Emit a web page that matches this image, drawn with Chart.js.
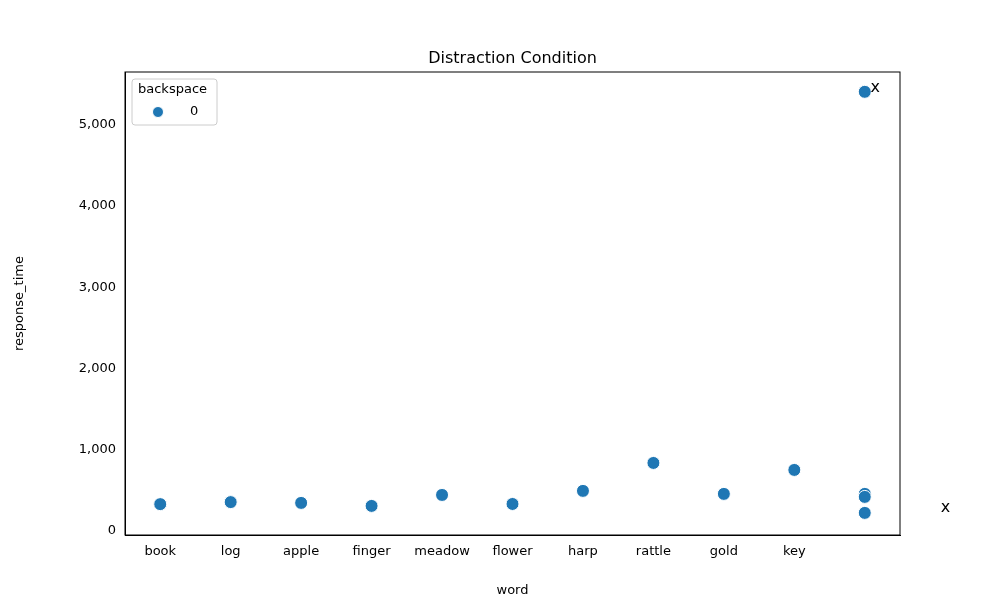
<!DOCTYPE html>
<html lang="en">
<head>
<meta charset="UTF-8">
<title>Distraction Condition</title>
<script src="https://cdn.jsdelivr.net/npm/chart.js"></script>
<style>
  body { margin: 0; background: #fff; }
  #wrap { width: 1000px; height: 600px; }
</style>
</head>
<body>
<div id="wrap"><canvas id="Chart1"></canvas></div>
<script>
    // data
    const words = ['book', 'log', 'apple', 'finger', 'meadow', 'flower', 'harp', 'rattle', 'gold', 'key', ''];
    const pointWord = [0, 1, 2, 3, 4, 5, 6, 7, 8, 9, 10, 10, 10, 10];
    const responseTime = [330, 355, 345, 308, 443, 332, 493, 837, 456, 751, 5406, 456, 419, 222];
    const markX = [10.08, 11.08];
    const markY = [5450, 283];
    const markText = ['x', 'x'];

    const points = pointWord.map((w, i) => ({ x: w, y: responseTime[i] }));
    const font = "'DejaVu Sans', sans-serif";

    const extras = {
        id: 'extras',
        afterDraw(chart) {
            const c = chart.ctx, a = chart.chartArea;
            const xs = chart.scales.x, ys = chart.scales.y;
            c.save();
            // frame
            c.strokeStyle = '#000'; c.lineWidth = 1;
            c.strokeRect(a.left, a.top, a.right - a.left, a.bottom - a.top);
            // title
            c.fillStyle = '#000';
            c.font = '16px ' + font;
            c.textAlign = 'center'; c.textBaseline = 'bottom';
            c.fillText('Distraction Condition', (a.left + a.right) / 2, a.top - 5);
            // x marks
            c.font = '16px ' + font;
            c.textAlign = 'left'; c.textBaseline = 'middle';
            markText.forEach((t, i) => {
                c.fillText(t, xs.getPixelForValue(markX[i]), ys.getPixelForValue(markY[i]));
            });
            // legend
            const lx = a.left + 7, ly = a.top + 7;
            c.fillStyle = '#fff'; c.strokeStyle = '#ccc';
            c.beginPath(); c.roundRect(lx, ly, 85, 46, 3); c.fill(); c.stroke();
            c.fillStyle = '#000';
            c.font = '13px ' + font;
            c.textAlign = 'left';
            c.fillText('backspace', lx + 6, ly + 11);
            c.fillText('0', lx + 58, ly + 33);
            c.fillStyle = '#1f77b4'; c.strokeStyle = '#fff';
            c.beginPath(); c.arc(lx + 26, ly + 33, 5.5, 0, Math.PI * 2); c.fill(); c.stroke();
            c.restore();
        }
    };

    new Chart(document.getElementById('Chart1'), {
        type: 'scatter',
        data: {
            datasets: [{
                label: '0',
                data: points,
                backgroundColor: '#1f77b4',
                borderColor: '#ffffff',
                borderWidth: 1,
                pointRadius: 6.5,
                pointHoverRadius: 6.5
            }]
        },
        options: {
            responsive: true,
            maintainAspectRatio: false,
            animation: false,
            layout: { padding: { top: 72, right: 100, left: 0, bottom: 0 } },
            plugins: { legend: { display: false }, tooltip: { enabled: false } },
            scales: {
                x: {
                    type: 'linear', min: -0.5, max: 10.5,
                    afterBuildTicks(s) { s.ticks = words.map((w, i) => ({ value: i })); },
                    afterFit(s) { s.height = 65; },
                    grid: { display: false, drawTicks: true, tickLength: 5, tickColor: '#000' },
                    border: { color: '#000' },
                    ticks: {
                        color: '#000', font: { size: 13, family: font }, padding: 4,
                        callback: v => words[v]
                    },
                    title: { display: true, text: 'word', color: '#000', font: { size: 13, family: font }, padding: 2 }
                },
                y: {
                    min: -50, max: 5650,
                    afterBuildTicks(s) { s.ticks = [0, 1000, 2000, 3000, 4000, 5000].map(v => ({ value: v })); },
                    afterFit(s) { s.width = 125; },
                    grid: { display: false, drawTicks: true, tickLength: 5, tickColor: '#000' },
                    border: { color: '#000' },
                    ticks: { color: '#000', font: { size: 13, family: font }, padding: 4 },
                    title: { display: true, text: 'response_time', color: '#000', font: { size: 13, family: font }, padding: 12 }
                }
            }
        },
        plugins: [extras]
    });
</script>
</body>
</html>
